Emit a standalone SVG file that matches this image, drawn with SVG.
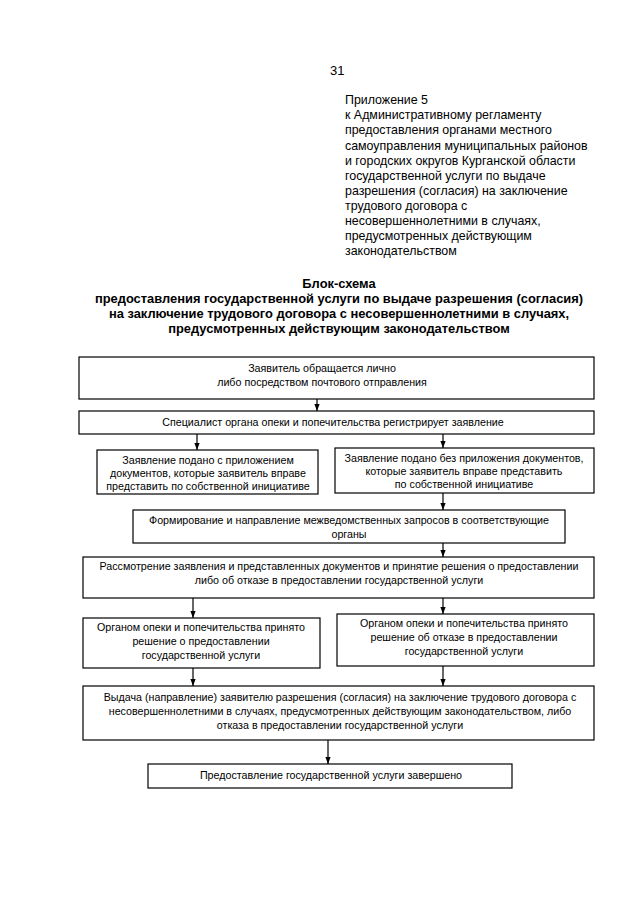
<svg xmlns="http://www.w3.org/2000/svg" width="640" height="905" viewBox="0 0 640 905">
<defs>
<style>
.t{font-family:"Liberation Sans",Arial,sans-serif;font-size:12.4px;fill:#000}
.h{font-family:"Liberation Sans",Arial,sans-serif;font-size:12.9px;font-weight:bold;fill:#000;text-anchor:middle}
.b{font-family:"Liberation Sans",Arial,sans-serif;font-size:10.7px;fill:#000;text-anchor:middle}
.box{fill:#fff;stroke:#000;stroke-width:1.2}
.c{stroke:#000;stroke-width:1.2;fill:none}
</style>
<marker id="ar" markerUnits="userSpaceOnUse" markerWidth="7" markerHeight="6" viewBox="0 0 7 6" refX="7" refY="3" orient="auto">
<path d="M0,0.4 L7,3 L0,5.6 Z" fill="#000"/>
</marker>
</defs>
<rect width="640" height="905" fill="#fff"/>
<text class="t" x="330" y="75" style="font-size:13px">31</text>
<g id="appendix">
<text class="t" x="345" y="104">Приложение 5</text>
<text class="t" x="345" y="119">к Административному регламенту</text>
<text class="t" x="345" y="134">предоставления органами местного</text>
<text class="t" x="345" y="150">самоуправления муниципальных районов</text>
<text class="t" x="345" y="165">и городских округов Курганской области</text>
<text class="t" x="345" y="180">государственной услуги по  выдаче</text>
<text class="t" x="345" y="195">разрешения (согласия) на заключение</text>
<text class="t" x="345" y="210">трудового договора с</text>
<text class="t" x="345" y="225">несовершеннолетними в случаях,</text>
<text class="t" x="345" y="240">предусмотренных действующим</text>
<text class="t" x="345" y="255">законодательством</text>
</g>
<g id="title">
<text class="h" x="339" y="288">Блок-схема</text>
<text class="h" x="339" y="303">предоставления государственной услуги по выдаче разрешения (согласия)</text>
<text class="h" x="339" y="318">на заключение трудового договора с несовершеннолетними в случаях,</text>
<text class="h" x="339" y="333">предусмотренных действующим законодательством</text>
</g>
<g id="connectors">
<line class="c" x1="317" y1="399" x2="317" y2="411" marker-end="url(#ar)"/>
<line class="c" x1="197" y1="434" x2="197" y2="450" marker-end="url(#ar)"/>
<line class="c" x1="443" y1="434" x2="443" y2="448" marker-end="url(#ar)"/>
<line class="c" x1="443" y1="493" x2="443" y2="510" marker-end="url(#ar)"/>
<line class="c" x1="443" y1="543" x2="443" y2="557" marker-end="url(#ar)"/>
<line class="c" x1="193" y1="598" x2="193" y2="618" marker-end="url(#ar)"/>
<line class="c" x1="443" y1="598" x2="443" y2="614" marker-end="url(#ar)"/>
<line class="c" x1="193" y1="668" x2="193" y2="686" marker-end="url(#ar)"/>
<line class="c" x1="443" y1="666" x2="443" y2="686" marker-end="url(#ar)"/>
<line class="c" x1="328" y1="740" x2="328" y2="764" marker-end="url(#ar)"/>
</g>
<g id="n1">
<rect class="box" x="79" y="357" width="515" height="42"/>
<text class="b" x="322" y="372">Заявитель обращается лично</text>
<text class="b" x="322" y="386">либо посредством почтового отправления</text>
</g>
<g id="n2">
<rect class="box" x="79" y="411" width="515" height="23"/>
<text class="b" x="333" y="426">Специалист органа опеки и попечительства регистрирует заявление</text>
</g>
<g id="n3">
<rect class="box" x="97" y="450" width="221" height="44"/>
<text class="b" x="208" y="464">Заявление подано с приложением</text>
<text class="b" x="208" y="477">документов, которые заявитель вправе</text>
<text class="b" x="208" y="490">представить по собственной инициативе</text>
</g>
<g id="n4">
<rect class="box" x="335" y="448" width="259" height="45"/>
<text class="b" x="464" y="462">Заявление подано без приложения документов,</text>
<text class="b" x="464" y="475">которые заявитель вправе представить</text>
<text class="b" x="464" y="488">по собственной инициативе</text>
</g>
<g id="n5">
<rect class="box" x="133" y="510" width="432" height="33"/>
<text class="b" x="349" y="524">Формирование и направление межведомственных запросов в соответствующие</text>
<text class="b" x="349" y="538">органы</text>
</g>
<g id="n6">
<rect class="box" x="83" y="557" width="511" height="41"/>
<text class="b" x="339" y="570">Рассмотрение заявления и представленных документов и принятие решения о предоставлении</text>
<text class="b" x="339" y="584">либо об отказе в предоставлении государственной услуги</text>
</g>
<g id="n7">
<rect class="box" x="83" y="618" width="237" height="50"/>
<text class="b" x="201" y="631">Органом опеки и попечительства принято</text>
<text class="b" x="201" y="645">решение о предоставлении</text>
<text class="b" x="201" y="659">государственной услуги</text>
</g>
<g id="n8">
<rect class="box" x="337" y="614" width="257" height="52"/>
<text class="b" x="464" y="627">Органом опеки и попечительства принято</text>
<text class="b" x="464" y="641">решение об отказе в предоставлении</text>
<text class="b" x="464" y="655">государственной услуги</text>
</g>
<g id="n9">
<rect class="box" x="83" y="686" width="511" height="54"/>
<text class="b" x="340" y="701">Выдача (направление) заявителю разрешения (согласия) на заключение трудового договора с</text>
<text class="b" x="340" y="715">несовершеннолетними в случаях, предусмотренных действующим законодательством, либо</text>
<text class="b" x="340" y="729">отказа в предоставлении государственной услуги</text>
</g>
<g id="n10">
<rect class="box" x="148" y="764" width="364" height="24"/>
<text class="b" x="331" y="779">Предоставление государственной услуги завершено</text>
</g>
</svg>
